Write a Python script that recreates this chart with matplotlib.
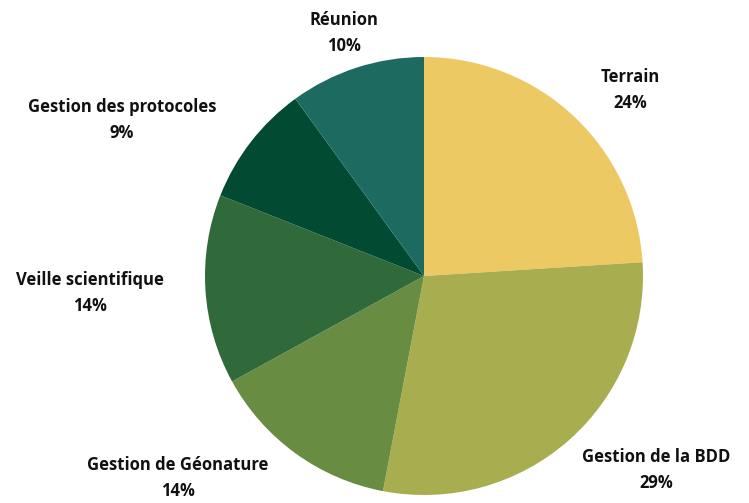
import matplotlib
matplotlib.use('Agg')
import matplotlib.pyplot as plt

categories = ['Terrain', 'Gestion de la BDD', 'Gestion de Géonature',
              'Veille scientifique', 'Gestion des protocoles', 'Réunion']
shares = [24, 29, 14, 14, 9, 10]
colors = ['#EDC963', '#A8AE50', '#698C43', '#316A3A', '#034A32', '#1D6B60']

# label centres in pixels of the 749x503 image (x from left, y from top)
label_px = [(630, 90), (656, 470), (178, 478), (90, 293), (122, 120), (344, 33)]

plt.rcParams['font.family'] = ['Open Sans', 'DejaVu Sans']

W, H = 749, 503
cx, cy, r = 424, 276, 219

fig = plt.figure(figsize=(W / 100, H / 100), dpi=100)
fig.set_facecolor('w')
ax = fig.add_axes([(cx - r) / W, (H - cy - r) / H, 2 * r / W, 2 * r / H])

ax.pie(shares, colors=colors, startangle=90, counterclock=False,
       radius=1, wedgeprops=dict(linewidth=0))
ax.set_xlim(-1, 1)
ax.set_ylim(-1, 1)
ax.set_aspect('equal')
ax.axis('off')

total = sum(shares)
for name, val, (px, py) in zip(categories, shares, label_px):
    ax.text((px - cx) / r, (cy - py) / r, f'{name}\n{round(val / total * 100)}%',
            ha='center', va='center', fontsize=12, fontweight='bold',
            color='#111111', linespacing=1.6)

fig.savefig('out.png', dpi=100)
